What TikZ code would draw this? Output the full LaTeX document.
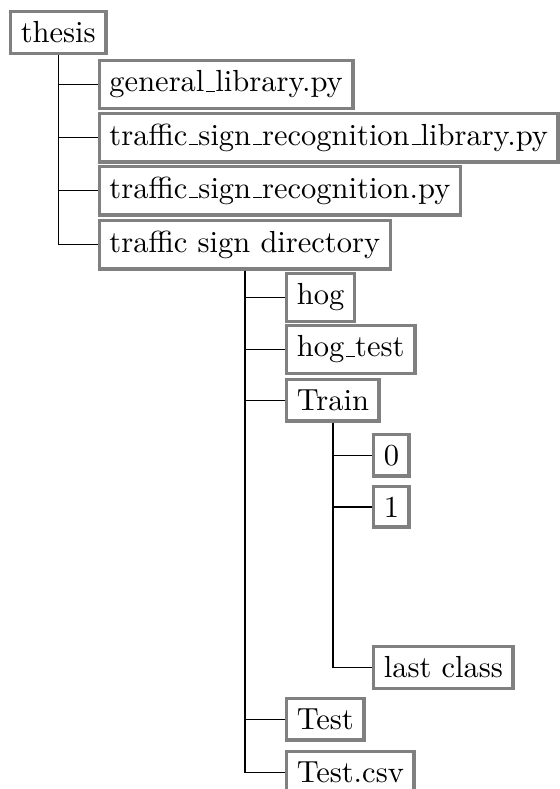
\documentclass[tikz,border=0pt]{standalone}
\newcommand\myus{\leavevmode\kern.06em\vbox{\hrule width.3em}}
\begin{document}
\begin{tikzpicture}[x=0.3279pt,y=-0.3279pt,
  box/.style={draw=gray,line width=1.2pt,anchor=north west,fill=white},
  edge/.style={draw=black,line width=0.45pt}]
\useasboundingbox (0,0) rectangle (559,789);
\node[box] (thesis) at (8.8,9.8) {thesis};
\node[box] (gen) at (97.5,58.8) {general\myus library.py};
\node[box] (tsrl) at (97.5,111.8) {traffic\myus sign\myus recognition\myus library.py};
\node[box] (tsr) at (97.5,164.8) {traffic\myus sign\myus recognition.py};
\node[box] (dir) at (97.5,218.8) {traffic sign directory};
\node[box] (hog) at (284.8,271.8) {hog};
\node[box] (hogtest) at (284.8,323.8) {hog\myus test};
\node[box] (train) at (284.8,377.8) {Train};
\node[box] (zero) at (371.8,432.8) {0};
\node[box] (one) at (371.8,484.8) {1};
\node[box] (last) at (371.8,644.8) {last class};
\node[box] (test) at (284.8,696.8) {Test};
\node[box] (testcsv) at (284.8,749.8) {Test.csv};
\foreach \c in {gen,tsrl,tsr,dir} \draw[edge] (thesis.south) |- (\c.west);
\foreach \c in {hog,hogtest,train,test,testcsv} \draw[edge] (dir.south) |- (\c.west);
\foreach \c in {zero,one,last} \draw[edge] (train.south) |- (\c.west);
\end{tikzpicture}
\end{document}
